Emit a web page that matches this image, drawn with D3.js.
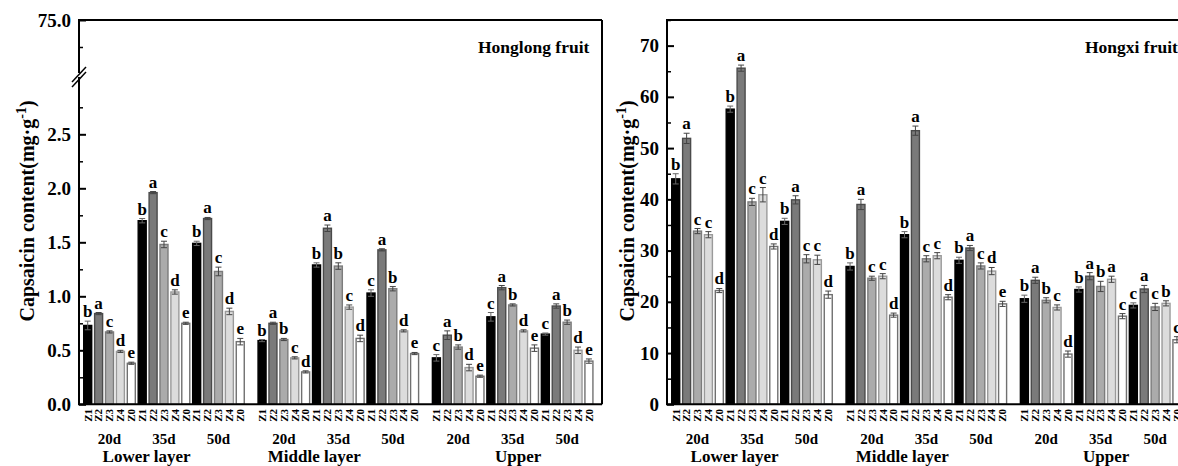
<!DOCTYPE html>
<html><head><meta charset="utf-8">
<script src="https://cdn.jsdelivr.net/npm/d3@7"></script>
<style>
body{margin:0;background:#fff;}
svg{display:block;font-family:"Liberation Serif","Times New Roman",serif;}
</style></head>
<body><svg id="chart" width="1178" height="466"></svg>
<script>
// ---------------- DATA ----------------
const layers = ["Lower layer", "Middle layer", "Upper"];
const stages = ["20d", "35d", "50d"];
const treatments = ["Z1", "Z2", "Z3", "Z4", "Z0"];

// Honglong fruit (mg/g), per layer: 20d x5, 35d x5, 50d x5
const honglongLower  = [0.73,0.84,0.67,0.49,0.38, 1.70,1.96,1.48,1.04,0.75, 1.49,1.72,1.23,0.86,0.58];
const honglongMiddle = [0.59,0.75,0.60,0.43,0.30, 1.29,1.63,1.28,0.90,0.61, 1.03,1.43,1.07,0.68,0.47];
const honglongUpper  = [0.43,0.64,0.53,0.34,0.26, 0.81,1.08,0.92,0.68,0.52, 0.65,0.91,0.76,0.50,0.40];
const honglongErrLower  = [0.04,0.01,0.01,0.01,0.01, 0.02,0.01,0.03,0.02,0.01, 0.02,0.01,0.04,0.03,0.03];
const honglongErrMiddle = [0.01,0.01,0.01,0.01,0.01, 0.02,0.03,0.03,0.02,0.03, 0.03,0.01,0.02,0.01,0.01];
const honglongErrUpper  = [0.03,0.04,0.02,0.03,0.01, 0.04,0.02,0.01,0.01,0.03, 0.01,0.02,0.02,0.03,0.02];
const honglongLetters = [
  ["b","a","c","d","e", "b","a","c","d","e", "b","a","c","d","e"],
  ["b","a","b","c","d", "b","a","b","c","d", "c","a","b","d","e"],
  ["c","a","b","d","e", "c","a","b","d","e", "c","a","b","d","e"]
];

// Hongxi fruit (mg/g)
const hongxiLower  = [44.0,51.9,33.8,33.1,22.2, 57.6,65.6,39.5,40.9,30.8, 35.7,39.9,28.4,28.2,21.4];
const hongxiMiddle = [26.9,39.0,24.6,25.0,17.4, 33.1,53.4,28.4,29.0,20.9, 28.1,30.5,27.0,26.0,19.6];
const hongxiUpper  = [20.6,24.2,20.3,18.9,9.8,  22.4,25.0,23.0,24.4,17.2, 19.3,22.5,19.0,19.7,12.6];
const hongxiErrLower  = [1.0,1.0,0.5,0.6,0.4, 0.6,0.6,0.7,1.4,0.5, 0.6,0.8,0.8,0.9,0.7];
const hongxiErrMiddle = [0.7,1.0,0.4,0.5,0.4, 0.6,0.9,0.6,0.6,0.5, 0.6,0.5,0.6,0.7,0.5];
const hongxiErrUpper  = [0.7,0.6,0.5,0.5,0.6, 0.5,0.7,1.0,0.6,0.5, 0.5,0.7,0.7,0.5,0.6];
const hongxiLetters = [
  ["b","a","c","c","d", "b","a","c","c","d", "b","a","c","c","d"],
  ["b","a","c","c","d", "b","a","c","c","d", "b","a","c","d","e"],
  ["b","a","b","c","d", "b","a","b","a","c", "c","a","c","b","c"]
];

const leftTickLow = [0.0, 0.5, 1.0, 1.5, 2.0, 2.5];
const leftTickHigh = [75.0];
const rightTicks = [0, 10, 20, 30, 40, 50, 60, 70];

// ---------------- STYLE ----------------
const fills   = ["#000000", "#7a7a7a", "#ababab", "#dcdcdc", "#ffffff"];
const strokes = ["#000000", "#4a4a4a", "#7c7c7c", "#9a9a9a", "#707070"];
const svg = d3.select("#chart");
const plotTop = 20, plotBottom = 404.3, panelW = 523, barW = 8;
const layerLabelSlot = [5.4, 20.8, 39.5];

function slotIndex(l, k) { return l * 16 + k; }

function drawPanel(cfg) {
  const g = svg.append("g");
  const x0 = cfg.x0;
  const x = d3.scaleLinear().domain([-0.8, 47.2]).range([x0, x0 + panelW]);
  const y = cfg.y;

  cfg.values.forEach((vals, l) => {
    vals.forEach((v, k) => {
      const t = k % 5;
      const cx = x(slotIndex(l, k));
      const e = cfg.errs[l][k];
      g.append("rect")
        .attr("x", cx - barW / 2).attr("y", y(v))
        .attr("width", barW).attr("height", y(0) - y(v))
        .attr("fill", fills[t]).attr("stroke", strokes[t]).attr("stroke-width", 1.4);
      const eg = g.append("g").attr("stroke", t === 0 ? "#666" : "#444").attr("stroke-width", 1);
      eg.append("line").attr("x1", cx).attr("x2", cx).attr("y1", y(v - e)).attr("y2", y(v + e));
      eg.append("line").attr("x1", cx - 3).attr("x2", cx + 3).attr("y1", y(v + e)).attr("y2", y(v + e));
      eg.append("line").attr("x1", cx - 3).attr("x2", cx + 3).attr("y1", y(v - e)).attr("y2", y(v - e));
      g.append("text").attr("x", cx).attr("y", y(v + e) - 4)
        .attr("text-anchor", "middle").attr("font-size", 17).attr("font-weight", "bold")
        .text(cfg.letters[l][k]);
      g.append("text")
        .attr("transform", `translate(${cx + 3.8},409) rotate(-90)`)
        .attr("text-anchor", "end").attr("font-size", 11).attr("font-weight", "bold")
        .text(treatments[t]);
    });
    stages.forEach((s, si) => {
      g.append("text").attr("x", x(slotIndex(l, si * 5 + 2))).attr("y", 444)
        .attr("text-anchor", "middle").attr("font-size", 15).attr("font-weight", "bold").text(s);
    });
    g.append("text").attr("x", x(layerLabelSlot[l])).attr("y", 462)
      .attr("text-anchor", "middle").attr("font-size", 17).attr("font-weight", "bold").text(layers[l]);
  });

  // frame
  g.append("line").attr("x1", x0).attr("x2", x0 + panelW).attr("y1", plotTop).attr("y2", plotTop)
    .attr("stroke", "#000").attr("stroke-width", 2);
  g.append("line").attr("x1", x0 + panelW).attr("x2", x0 + panelW).attr("y1", plotTop).attr("y2", plotBottom)
    .attr("stroke", "#000").attr("stroke-width", 2);
  g.append("line").attr("x1", x0 - 1).attr("x2", x0 + panelW).attr("y1", plotBottom).attr("y2", plotBottom)
    .attr("stroke", "#000").attr("stroke-width", 2);
  g.append("line").attr("x1", x0).attr("x2", x0).attr("y1", plotTop - 1).attr("y2", plotBottom)
    .attr("stroke", "#000").attr("stroke-width", 2);

  cfg.axes.forEach(a => {
    const ax = g.append("g").attr("transform", `translate(${x0},0)`)
      .call(d3.axisLeft(a.scale).tickValues(a.major).tickSizeInner(-7).tickSizeOuter(0)
        .tickPadding(8).tickFormat(a.fmt));
    ax.select(".domain").remove();
    ax.selectAll(".tick line").attr("stroke-width", 2);
    ax.selectAll("text").attr("font-size", 19).attr("font-weight", "bold")
      .attr("font-family", "'Liberation Serif','Times New Roman',serif").attr("fill", "#000");
    const mx = g.append("g").attr("transform", `translate(${x0},0)`)
      .call(d3.axisLeft(a.scale).tickValues(a.minor).tickSizeInner(-4).tickSizeOuter(0).tickFormat(""));
    mx.select(".domain").remove();
    mx.selectAll(".tick line").attr("stroke-width", 1.5);
  });

  g.append("text").attr("x", x0 + cfg.titleDx).attr("y", 53)
    .attr("text-anchor", "start").attr("font-size", 17.5).attr("font-weight", "bold").text(cfg.title);

  const yl = g.append("text").attr("transform", `translate(${cfg.labelX},211) rotate(-90)`)
    .attr("text-anchor", "middle").attr("font-size", 20).attr("font-weight", "bold");
  yl.append("tspan").text("Capsaicin content(mg·g");
  yl.append("tspan").attr("dy", -8).attr("font-size", 14).text("-1");
  yl.append("tspan").attr("dy", 8).text(")");
  return g;
}

// Left panel (broken axis)
const yLow = d3.scaleLinear().domain([0, 3]).range([plotBottom, 80.3]);
const yHigh = d3.scaleLinear().domain([70, 75]).range([74, plotTop]);
const leftPanel = drawPanel({
  x0: 79, y: yLow, title: "Honglong fruit", labelX: 34, titleDx: 399,
  values: [honglongLower, honglongMiddle, honglongUpper],
  errs: [honglongErrLower, honglongErrMiddle, honglongErrUpper],
  letters: honglongLetters,
  axes: [
    {scale: yLow, major: leftTickLow, minor: [0.25, 0.75, 1.25, 1.75, 2.25, 2.75], fmt: d3.format(".1f")},
    {scale: yHigh, major: leftTickHigh, minor: [72.5], fmt: d3.format(".1f")}
  ]
});
// break marks
leftPanel.append("rect").attr("x", 77).attr("y", 73).attr("width", 4).attr("height", 4).attr("fill", "#fff");
[0, 5].forEach(off => {
  leftPanel.append("line").attr("x1", 72).attr("y1", 82 + off).attr("x2", 86).attr("y2", 67 + off)
    .attr("stroke", "#000").attr("stroke-width", 1.5);
});

// Right panel
const yR = d3.scaleLinear().domain([0, 75]).range([plotBottom, plotTop]);
drawPanel({
  x0: 667, y: yR, title: "Hongxi fruit", labelX: 634, titleDx: 418,
  values: [hongxiLower, hongxiMiddle, hongxiUpper],
  errs: [hongxiErrLower, hongxiErrMiddle, hongxiErrUpper],
  letters: hongxiLetters,
  axes: [
    {scale: yR, major: rightTicks, minor: [5, 15, 25, 35, 45, 55, 65, 75], fmt: d3.format("d")}
  ]
});
</script></body></html>
